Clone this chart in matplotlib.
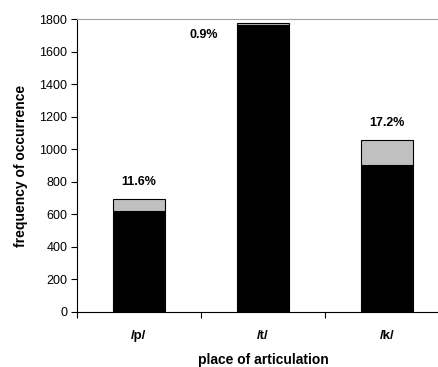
import matplotlib.pyplot as plt
import numpy as np

places = ["/p/", "/t/", "/k/"]
black_vals = [620, 1762, 905]
gray_vals = [74, 16, 152]
pct_labels = ["11.6%", "0.9%", "17.2%"]

fig = plt.figure(figsize=(4.39, 3.67), dpi=100)
ax = fig.add_axes([0.1754, 0.1499, 0.847, 0.798])

x = np.arange(len(places))
totals = np.array(black_vals) + np.array(gray_vals)
ax.bar(x, black_vals, width=0.42, color="black", edgecolor="black", linewidth=0.8)
ax.bar(x, gray_vals, bottom=black_vals, width=0.42, color="#c0c0c0",
       edgecolor="black", linewidth=0.8)

# percentage labels
ax.text(x[0], totals[0] + 65, pct_labels[0], ha="center", va="bottom",
        fontsize=9, fontweight="bold", family="Liberation Sans")
ax.text(x[1] - 0.36, totals[1] - 40, pct_labels[1], ha="right", va="top",
        fontsize=9, fontweight="bold", family="Liberation Sans")
ax.text(x[2], totals[2] + 65, pct_labels[2], ha="center", va="bottom",
        fontsize=9, fontweight="bold", family="Liberation Sans")

ax.set_xlim(-0.5, 2.5)
ax.set_ylim(0, 1800)
ax.set_yticks(np.arange(0, 1801, 200))
ax.set_xticks(x)
ax.set_xticklabels(places, fontweight="bold", fontsize=9.5, family="Liberation Sans")
ax.set_xticks([-0.5, 0.5, 1.5], minor=True)
ax.tick_params(axis="x", which="major", length=0, pad=13)
ax.tick_params(axis="x", which="minor", length=4, width=0.8, direction="out")
ax.tick_params(axis="y", length=4, width=0.8, labelsize=9, pad=3)
for lab in ax.get_yticklabels():
    lab.set_family("Liberation Sans")

ax.spines["top"].set_color("#a0a0a0")
ax.spines["right"].set_visible(False)
ax.spines["left"].set_linewidth(0.8)
ax.spines["bottom"].set_linewidth(0.8)

ax.set_xlabel("place of articulation", fontweight="bold", fontsize=10,
              family="Liberation Sans", labelpad=8)
ax.set_ylabel("frequency of occurrence", fontweight="bold", fontsize=10,
              family="Liberation Sans", labelpad=8)

fig.savefig("out.png", dpi=100)
